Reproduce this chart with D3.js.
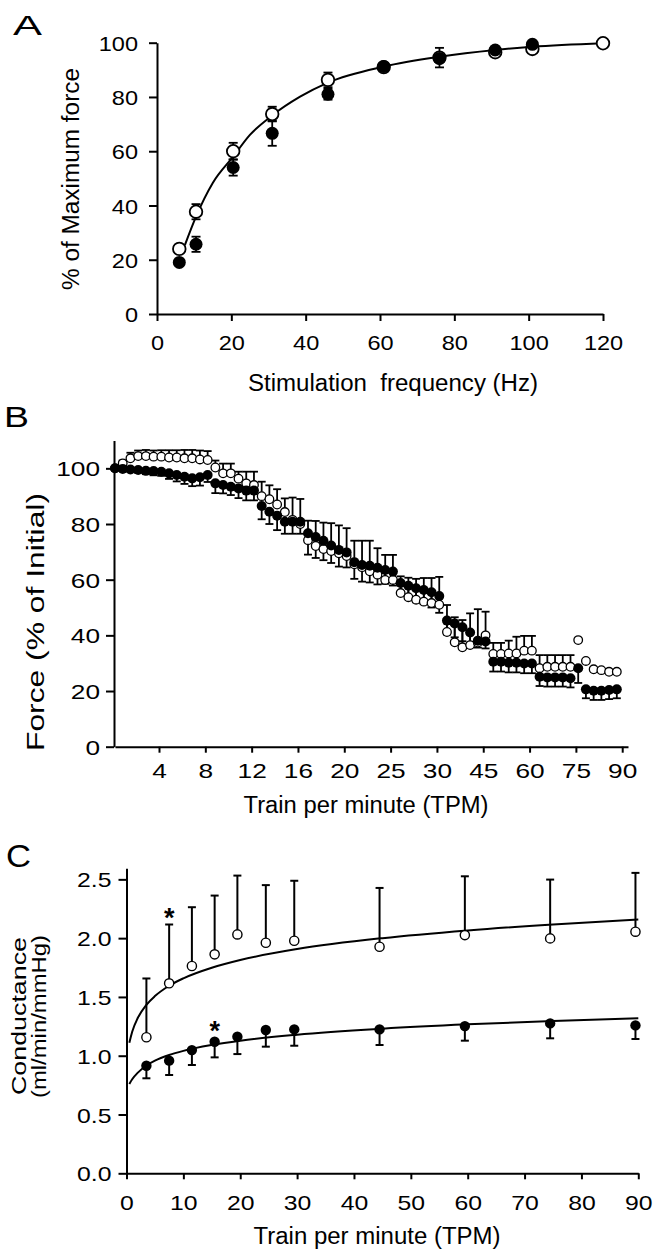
<!DOCTYPE html>
<html><head><meta charset="utf-8">
<script src="https://cdn.jsdelivr.net/npm/d3@7"></script>
<style>
html,body{margin:0;padding:0;background:#fff;}
svg{display:block;}
text{font-family:"Liberation Sans",Arial,Helvetica,sans-serif;fill:#000;}
</style></head><body>
<svg id="chart" width="658" height="1257"></svg>
<script>
// ---------------- Panel A data ----------------
const freqA = [6, 10.5, 20.5, 31, 46, 61, 76, 91, 101, 120];
const openA = [24, 37.7, 60, 73.7, 86.3, 91, 94.5, 96.5, 97.7, 99.8];
const openAErr = [0.5, 2.8, 3.1, 2.7, 2.7, 0.5, 3.6, 0.5, 0.5, 0.5];
const filledA = [19, 25.7, 54, 66.6, 81, 91.2, 94.2, 97.3, 99.4, null];
const filledAErr = [1, 2.8, 3, 4.6, 2, 0.5, 0.5, 0.5, 0.5, null];
const fitAx = [7.5, 10.5, 15, 20.5, 25, 30.9, 38.5, 46, 61, 76, 91, 101, 120];
const fitAy = [25.4, 35.9, 48.3, 58, 66, 73.1, 80.1, 85.3, 91.2, 94.8, 97.3, 98.5, 99.8];
const ticksAx = [0, 20, 40, 60, 80, 100, 120];
const ticksAy = [0, 20, 40, 60, 80, 100];

// ---------------- Panel B data ----------------
const minutesB = d3.range(1, 67);
const stageLabelsB = ["4", "8", "12", "16", "20", "25", "30", "45", "60", "75", "90"];
const filledB = [100,99.8,99.6,99.4,99.1,99.0, 98.8,98.2,97.6,97.0,96.4,96.8,
  97.6,94.6,94.0,93.4,92.8,92.0, 92.0,86.5,84.4,83.0,80.8,80.8,
  80.8,76.7,75.3,74.0,72.3,70.7, 69.8,66.3,65.3,65.0,64.3,63.5,
  62.9,58.8,57.8,56.9,56.3,55.5, 54.1,45.3,44.3,42.9,41.0,38.1,
  37.8,30.5,30.5,30.2,30.2,29.9, 29.9,25.1,24.9,24.9,24.9,24.6,
  28.2,20.6,20.1,20.1,20.4,20.6];
const filledErrB = [0.5,0.5,0.8,1,1.2,1.5, 1.5,2,2.3,2.6,2.8,3,
  2.5,3.5,3,3,3.5,3.5, 3.5,4.8,4.4,5.2,4.3,4.3,
  4.3,7.7,7.5,7,6.3,6, 5.4,6,6,6,6,5,
  5,4,4.5,5,5,5.5, 6,5,5,5,4,2.5,
  2.5,3.5,3.5,3.5,3.5,3.5, 3.5,3.3,3.3,3.3,3.3,3.3,
  5.3,3.2,3.3,3.3,3.3,3.2];
const openB = [100,101.8,103.6,104.4,104.4,104.2, 104.2,103.9,103.9,103.6,103.6,103.2,
  103.0,100.3,98.2,98.2,96.3,94.6, 94.0,90.0,88.9,87.0,84.3,81.5,
  80.0,74.2,72.1,71.0,70.3,69.5, 68.5,65.5,64.5,63.0,61.8,59.9,
  59.9,55.2,53.7,52.8,52.1,51.6, 51.0,41.2,37.5,35.7,36.5,37.4,
  40.0,33.3,33.3,33.5,33.5,34.5, 34.5,28.2,28.7,28.7,28.7,28.7,
  38.3,30.8,27.8,27.5,26.9,26.9];
const openErrB = [0.5,1,2,2,2.2,2.2, 2.3,2.6,2.6,3,3,3.2,
  3.2,2.5,3.5,3.5,2.5,4.2, 4.8,5.2,5,5.5,4.9,8,
  9,7,9,9.5,10,10, 10,8.5,9.5,11,9.5,9,
  9,6,7,7.5,8.5,9, 10,9.7,9,9.8,11.4,12,
  8.5,4,4,4.6,6,5.3, 5.3,4.7,4.2,4.2,4.2,4.2,
  0,0,0,0,0,0];
const ticksBy = [0, 20, 40, 60, 80, 100];

// ---------------- Panel C data ----------------
const tpmC = [3.5, 7.5, 11.5, 15.5, 19.5, 24.5, 29.5, 44.5, 59.5, 74.5, 89.5];
const openC = [1.157, 1.616, 1.763, 1.862, 2.032, 1.961, 1.978, 1.927, 2.026, 1.998, 2.055];
const openCErr = [0.50, 0.50, 0.50, 0.50, 0.50, 0.49, 0.51, 0.50, 0.50, 0.50, 0.50];
const filledC = [0.915, 0.958, 1.048, 1.119, 1.162, 1.219, 1.224, 1.224, 1.252, 1.275, 1.258];
const filledCErr = [0.107, 0.122, 0.127, 0.133, 0.148, 0.142, 0.139, 0.133, 0.124, 0.127, 0.116];
const fitCx = [0.5, 1, 2, 3.5, 5, 7.5, 10, 15, 20, 30, 45, 60, 75, 90];
const fitCopen = [1.11, 1.204, 1.323, 1.433, 1.507, 1.595, 1.658, 1.748, 1.814, 1.907, 2.0, 2.066, 2.117, 2.159];
const fitCfilled = [0.76, 0.80, 0.856, 0.917, 0.958, 1.006, 1.041, 1.091, 1.128, 1.179, 1.23, 1.267, 1.295, 1.319];
const starCx = [7.5, 15.5];
const starCy = [2.225, 1.261];
const ticksCx = [0, 10, 20, 30, 40, 50, 60, 70, 80, 90];
const ticksCy = [0, 0.5, 1.0, 1.5, 2.0, 2.5];

// ---------------- helpers ----------------
const svg = d3.select("#chart");
svg.append("rect").attr("width", 658).attr("height", 1257).attr("fill", "#fff");

function stretch(sel, sx) {
  sel.each(function () {
    const L = this.getComputedTextLength();
    this.setAttribute("textLength", L * sx);
    this.setAttribute("lengthAdjust", "spacingAndGlyphs");
  });
}
function styleAxis(g, fs) {
  g.attr("font-family", null).attr("font-size", fs);
  g.select(".domain").attr("stroke", "#000").attr("stroke-width", 2);
  g.selectAll(".tick line").attr("stroke", "#000").attr("stroke-width", 2);
  g.selectAll(".tick text").attr("fill", "#000");
}
function title(x, y, txt, fs, len, rot) {
  const t = svg.append("text")
    .attr("transform", `translate(${x},${y})` + (rot ? " rotate(-90)" : ""))
    .attr("text-anchor", "middle").attr("font-size", fs)
    .style("white-space", "pre").text(txt);
  if (len) t.attr("textLength", len).attr("lengthAdjust", "spacingAndGlyphs");
  return t;
}
function letter(x, y, txt, fs, len) {
  svg.append("text").attr("x", x).attr("y", y).attr("font-size", fs)
    .attr("textLength", len).attr("lengthAdjust", "spacingAndGlyphs").text(txt);
}
function errBar(g, x, y0, y1, cap, sw) {
  g.append("line").attr("x1", x).attr("x2", x).attr("y1", y0).attr("y2", y1)
    .attr("stroke", "#000").attr("stroke-width", sw);
  g.append("line").attr("x1", x - cap).attr("x2", x + cap).attr("y1", y1).attr("y2", y1)
    .attr("stroke", "#000").attr("stroke-width", sw);
}

// ================= Panel A =================
const xA = d3.scaleLinear().domain([0, 120]).range([157, 603]);
const yA = d3.scaleLinear().domain([0, 100]).range([314, 42.7]);
const gAx = svg.append("g").attr("transform", `translate(0,${yA(0)})`)
  .call(d3.axisBottom(xA).tickValues(ticksAx).tickSize(7).tickSizeOuter(0));
styleAxis(gAx, 21);
gAx.selectAll(".tick text").attr("y", 36).attr("dy", null);
stretch(gAx.selectAll(".tick text"), 1.12);
const gAy = svg.append("g").attr("transform", `translate(${xA(0)},0)`)
  .call(d3.axisLeft(yA).tickValues(ticksAy).tickSize(8).tickSizeOuter(0));
styleAxis(gAy, 21);
gAy.selectAll(".tick text").attr("x", -19).attr("dy", "0.36em");
stretch(gAy.selectAll(".tick text"), 1.12);

title(393, 391, "Stimulation  frequency (Hz)", 23, 290, false);
title(79, 179, "% of Maximum force", 23, 222, true);
letter(13, 35, "A", 28, 29);

const lineA = d3.line().x((d, i) => xA(fitAx[i])).y(d => yA(d)).curve(d3.curveMonotoneX);
svg.append("path").datum(fitAy).attr("d", lineA).attr("fill", "none")
  .attr("stroke", "#000").attr("stroke-width", 2);

const eA = svg.append("g");
freqA.forEach((f, i) => {
  if (openA[i] != null) {
    errBar(eA, xA(f), yA(openA[i]), yA(openA[i] + openAErr[i]), 4.5, 1.8);
    errBar(eA, xA(f), yA(openA[i]), yA(openA[i] - openAErr[i]), 4.5, 1.8);
  }
  if (filledA[i] != null) {
    errBar(eA, xA(f), yA(filledA[i]), yA(filledA[i] + filledAErr[i]), 4.5, 1.8);
    errBar(eA, xA(f), yA(filledA[i]), yA(filledA[i] - filledAErr[i]), 4.5, 1.8);
  }
});
svg.append("g").selectAll("circle").data(freqA).join("circle")
  .attr("cx", d => xA(d)).attr("cy", (d, i) => yA(openA[i])).attr("r", 6.3)
  .attr("fill", "#fff").attr("stroke", "#000").attr("stroke-width", 1.8);
svg.append("g").selectAll("circle").data(freqA.filter((d, i) => filledA[i] != null)).join("circle")
  .attr("cx", d => xA(d)).attr("cy", (d, i) => yA(filledA[i])).attr("r", 6.5)
  .attr("fill", "#000");

// ================= Panel B =================
const xB = d3.scaleLinear().domain([0, 66.45]).range([115, 628]);
const yB = d3.scaleLinear().domain([0, 110]).range([746.7, 440.5]);
const stagePosB = stageLabelsB.map((s, k) => 6 * (k + 1) - 0.3);
const gBx = svg.append("g").attr("transform", `translate(0,${yB(0)})`)
  .call(d3.axisBottom(xB).tickValues(stagePosB).tickFormat((d, i) => stageLabelsB[i])
    .tickSize(6).tickSizeOuter(0));
styleAxis(gBx, 21);
gBx.selectAll(".tick text").attr("y", 31).attr("dy", null);
stretch(gBx.selectAll(".tick text"), 1.25);
const gBy = svg.append("g").attr("transform", `translate(114,0)`)
  .call(d3.axisLeft(yB).tickValues(ticksBy).tickSize(8).tickSizeOuter(0));
styleAxis(gBy, 21);
gBy.selectAll(".tick text").attr("x", -14).attr("dy", "0.36em");
stretch(gBy.selectAll(".tick text"), 1.25);

title(366, 813, "Train per minute (TPM)", 23, 245, false);
title(44, 622, "Force (% of Initial)", 23, 258, true);
letter(4, 427, "B", 30, 25);

const eB = svg.append("g");
minutesB.forEach((m, i) => {
  const x = xB(m - 1);
  if (openErrB[i] > 0.6) errBar(eB, x, yB(openB[i]), yB(openB[i] + openErrB[i]), 4, 1.8);
  if (filledErrB[i] > 0.6) errBar(eB, x, yB(filledB[i]), yB(filledB[i] - filledErrB[i]), 4, 1.8);
});
svg.append("g").selectAll("circle").data(minutesB).join("circle")
  .attr("cx", d => xB(d - 1)).attr("cy", (d, i) => yB(openB[i])).attr("r", 4.3)
  .attr("fill", "#fff").attr("stroke", "#000").attr("stroke-width", 1.3);
svg.append("g").selectAll("circle").data(minutesB).join("circle")
  .attr("cx", d => xB(d - 1)).attr("cy", (d, i) => yB(filledB[i])).attr("r", 5)
  .attr("fill", "#000");

// ================= Panel C =================
const xC = d3.scaleLinear().domain([0, 90]).range([126.5, 638.3]);
const yC = d3.scaleLinear().domain([0, 2.594]).range([1173.3, 868.3]);
const gCx = svg.append("g").attr("transform", `translate(0,${yC(0)})`)
  .call(d3.axisBottom(xC).tickValues(ticksCx).tickSize(6).tickSizeOuter(0));
styleAxis(gCx, 21);
gCx.selectAll(".tick text").attr("y", 37).attr("dy", null);
stretch(gCx.selectAll(".tick text"), 1.18);
const gCy = svg.append("g").attr("transform", `translate(${xC(0)},0)`)
  .call(d3.axisLeft(yC).tickValues(ticksCy).tickFormat(d3.format(".1f")).tickSize(8).tickSizeOuter(0));
styleAxis(gCy, 21);
gCy.selectAll(".tick text").attr("x", -15).attr("dy", "0.36em");
stretch(gCy.selectAll(".tick text"), 1.18);

title(377, 1244, "Train per minute (TPM)", 23, 247, false);
title(26, 1016, "Conductance", 20, 158, true);
title(46, 1016.5, "(ml/min/mmHg)", 20, 163, true);
letter(6, 867, "C", 32, 25);

const lineC = d3.line().x((d, i) => xC(fitCx[i])).y(d => yC(d)).curve(d3.curveMonotoneX);
svg.append("path").datum(fitCopen).attr("d", lineC).attr("fill", "none").attr("stroke", "#000").attr("stroke-width", 2);
svg.append("path").datum(fitCfilled).attr("d", lineC).attr("fill", "none").attr("stroke", "#000").attr("stroke-width", 2);

const eC = svg.append("g");
tpmC.forEach((t, i) => {
  errBar(eC, xC(t), yC(openC[i]), yC(openC[i] + openCErr[i]), 4, 2);
  errBar(eC, xC(t), yC(filledC[i]), yC(filledC[i] - filledCErr[i]), 4, 2);
});
svg.append("g").selectAll("circle").data(tpmC).join("circle")
  .attr("cx", d => xC(d)).attr("cy", (d, i) => yC(openC[i])).attr("r", 4.6)
  .attr("fill", "#fff").attr("stroke", "#000").attr("stroke-width", 1.4);
svg.append("g").selectAll("circle").data(tpmC).join("circle")
  .attr("cx", d => xC(d)).attr("cy", (d, i) => yC(filledC[i])).attr("r", 5.2)
  .attr("fill", "#000");
svg.append("g").selectAll("text").data(starCx).join("text")
  .attr("x", d => xC(d)).attr("y", (d, i) => yC(starCy[i]) + 15)
  .attr("text-anchor", "middle").attr("font-size", 27).attr("font-weight", "bold").text("*");
</script>
</body></html>
